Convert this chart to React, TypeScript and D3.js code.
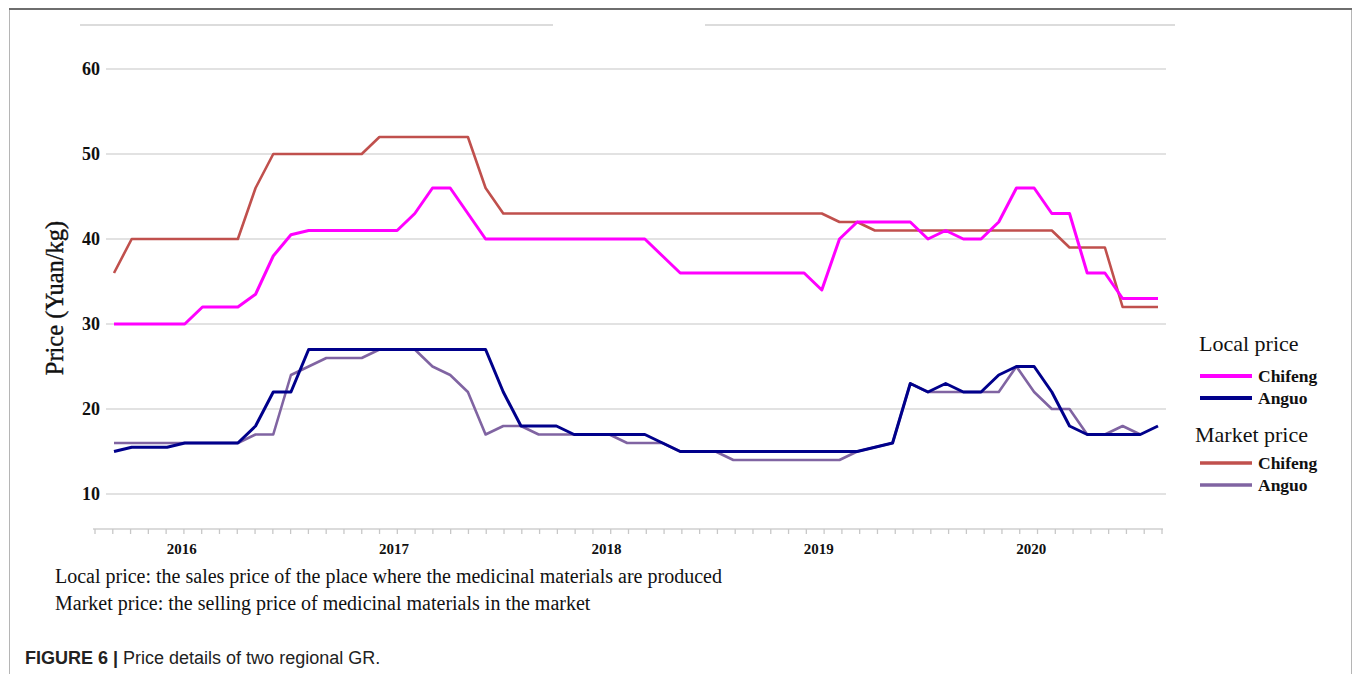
import React from 'react';
import * as d3 from 'd3';

// monthly observations, Sep 2015 .. Aug 2020
const months = d3.timeMonth
  .range(new Date(2015, 8, 1), new Date(2020, 8, 1))
  .map(d3.timeFormat('%Y-%m'));

const yearTicks = ['2016-01', '2017-01', '2018-01', '2019-01', '2020-01'];
const priceTicks = [10, 20, 30, 40, 50, 60];

const localChifeng = [
  30, 30, 30, 30, 30, 32, 32, 32, 33.5, 38, 40.5, 41, 41, 41, 41, 41, 41, 43, 46, 46,
  43, 40, 40, 40, 40, 40, 40, 40, 40, 40, 40, 38, 36, 36, 36, 36, 36, 36, 36, 36,
  34, 40, 42, 42, 42, 42, 40, 41, 40, 40, 42, 46, 46, 43, 43, 36, 36, 33, 33, 33,
];
const localAnguo = [
  15, 15.5, 15.5, 15.5, 16, 16, 16, 16, 18, 22, 22, 27, 27, 27, 27, 27, 27, 27, 27, 27,
  27, 27, 22, 18, 18, 18, 17, 17, 17, 17, 17, 16, 15, 15, 15, 15, 15, 15, 15, 15,
  15, 15, 15, 15.5, 16, 23, 22, 23, 22, 22, 24, 25, 25, 22, 18, 17, 17, 17, 17, 18,
];
const marketChifeng = [
  36, 40, 40, 40, 40, 40, 40, 40, 46, 50, 50, 50, 50, 50, 50, 52, 52, 52, 52, 52,
  52, 46, 43, 43, 43, 43, 43, 43, 43, 43, 43, 43, 43, 43, 43, 43, 43, 43, 43, 43,
  43, 42, 42, 41, 41, 41, 41, 41, 41, 41, 41, 41, 41, 41, 39, 39, 39, 32, 32, 32,
];
const marketAnguo = [
  16, 16, 16, 16, 16, 16, 16, 16, 17, 17, 24, 25, 26, 26, 26, 27, 27, 27, 25, 24,
  22, 17, 18, 18, 17, 17, 17, 17, 17, 16, 16, 16, 15, 15, 15, 14, 14, 14, 14, 14,
  14, 14, 15, 15.5, 16, 23, 22, 22, 22, 22, 22, 25, 22, 20, 20, 17, 17, 18, 17, null,
];

const series = [
  { name: 'Chifeng', group: 'Market price', color: '#c0504d', width: 2.6, values: marketChifeng },
  { name: 'Anguo', group: 'Market price', color: '#8064a2', width: 2.6, values: marketAnguo },
  { name: 'Chifeng', group: 'Local price', color: '#ff00ff', width: 3, values: localChifeng },
  { name: 'Anguo', group: 'Local price', color: '#00008b', width: 3, values: localAnguo },
];

const serif = '"Liberation Serif", "Times New Roman", serif';

export default function App() {
  const width = 1355;
  const height = 674;

  const x = d3.scalePoint().domain(months).range([114, 1158]);
  const y = d3.scaleLinear().domain([10, 60]).range([494, 69]);
  const axisY = 529;
  const tickX = d3.scaleLinear().domain([0, 60]).range([95, 1162]);

  const line = d3
    .line()
    .defined((d) => d[1] != null)
    .x((d) => x(d[0]))
    .y((d) => y(d[1]));

  const legendGroups = [
    { title: 'Local price', tx: 1199, ty: 351, items: [series[2], series[3]], ly: [376, 398] },
    { title: 'Market price', tx: 1195, ty: 442, items: [series[0], series[1]], ly: [463, 485] },
  ];

  return (
    <svg
      width={width}
      height={height}
      style={{ position: 'absolute', left: 0, top: 0, background: '#fff' }}
    >
      {/* figure frame */}
      <rect x={9.5} y={9.5} width={1342} height={720} fill="none" stroke="#b5b5b5" />
      <line x1={9} x2={1352} y1={9} y2={9} stroke="#6e6e6e" strokeWidth={2} />
      <line x1={80} x2={553} y1={25} y2={25} stroke="#dcdcdc" strokeWidth={2} />
      <line x1={705} x2={1175} y1={25} y2={25} stroke="#dcdcdc" strokeWidth={2} />

      {/* grid + y labels */}
      {priceTicks.map((t) => (
        <g key={t}>
          <line x1={106} x2={1166} y1={y(t)} y2={y(t)} stroke="#d9d9d9" strokeWidth={1.5} />
          <text
            x={100}
            y={y(t)}
            dy="0.35em"
            textAnchor="end"
            fontFamily={serif}
            fontWeight="bold"
            fontSize={18}
            fill="#111"
          >
            {t}
          </text>
        </g>
      ))}

      {/* x axis */}
      <line x1={93} x2={1163} y1={axisY} y2={axisY} stroke="#cfcfcf" strokeWidth={1.5} />
      {d3.range(61).map((i) => (
        <line
          key={i}
          x1={tickX(i)}
          x2={tickX(i)}
          y1={axisY}
          y2={axisY + 5}
          stroke="#c8c8c8"
          strokeWidth={1.3}
        />
      ))}
      {yearTicks.map((m) => (
        <text
          key={m}
          x={x(m) - 3}
          y={554}
          textAnchor="middle"
          fontFamily={serif}
          fontWeight="bold"
          fontSize={15}
          fill="#111"
        >
          {m.slice(0, 4)}
        </text>
      ))}

      <text
        transform="translate(63,298) rotate(-90)"
        textAnchor="middle"
        fontFamily={serif}
        fontSize={24.5}
        fill="#111"
        stroke="#111"
        strokeWidth={0.4}
      >
        Price (Yuan/kg)
      </text>

      {/* series */}
      {series.map((s, k) => (
        <path
          key={k}
          d={line(months.map((m, i) => [m, s.values[i]]))}
          fill="none"
          stroke={s.color}
          strokeWidth={s.width}
          strokeLinejoin="round"
        />
      ))}

      {/* legend */}
      {legendGroups.map((g) => (
        <g key={g.title}>
          <text x={g.tx} y={g.ty} fontFamily={serif} fontSize={22} fill="#111">
            {g.title}
          </text>
          {g.items.map((s, j) => (
            <g key={j}>
              <line
                x1={1200}
                x2={1252}
                y1={g.ly[j]}
                y2={g.ly[j]}
                stroke={s.color}
                strokeWidth={s.width + 1}
              />
              <text
                x={1258}
                y={g.ly[j] + 6}
                fontFamily={serif}
                fontWeight="bold"
                fontSize={17.5}
                fill="#111"
              >
                {s.name}
              </text>
            </g>
          ))}
        </g>
      ))}

      {/* notes */}
      <text x={55} y={583} fontFamily={serif} fontSize={20} fill="#111">
        Local price: the sales price of the place where the medicinal materials are produced
      </text>
      <text x={55} y={610} fontFamily={serif} fontSize={20} fill="#111">
        Market price: the selling price of medicinal materials in the market
      </text>

      {/* caption */}
      <text
        x={25}
        y={664}
        fontFamily='"Liberation Sans Narrow", "Liberation Sans", Arial, sans-serif'
        fontSize={18}
        fill="#222"
      >
        <tspan fontWeight="bold">FIGURE 6 |</tspan>
        <tspan> Price details of two regional GR.</tspan>
      </text>
    </svg>
  );
}
